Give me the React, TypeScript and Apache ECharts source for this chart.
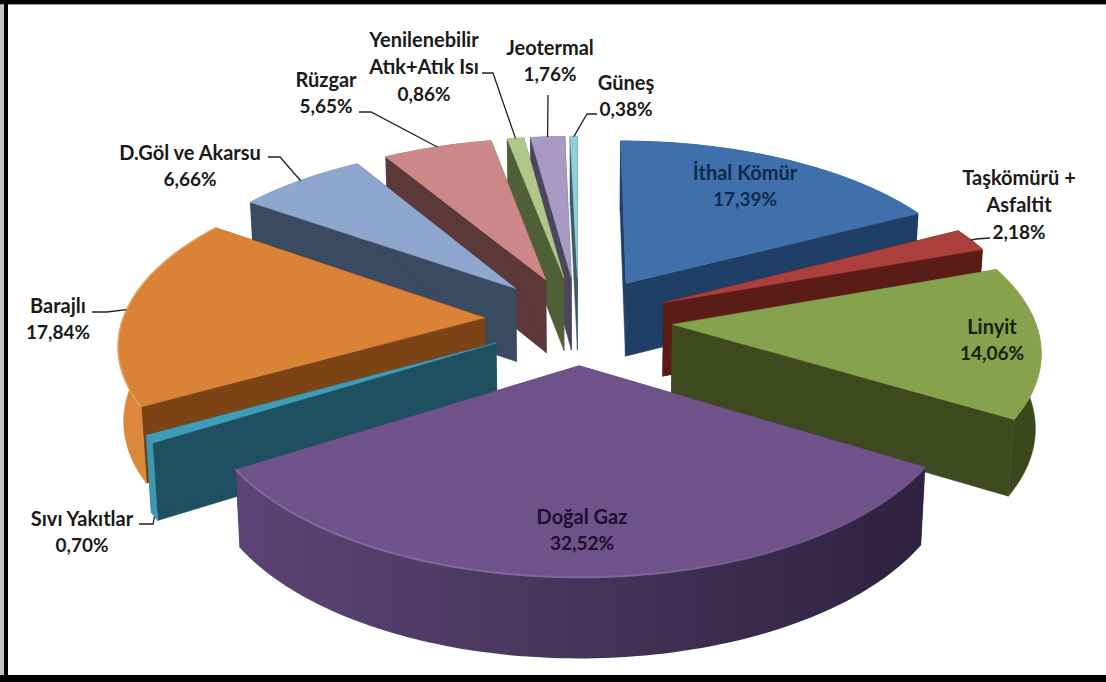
import React, { useEffect, useRef } from "react";
import * as echarts from "echarts";

const categories = [
  "İthal Kömür",
  "Taşkömürü +\nAsfaltit",
  "Linyit",
  "Doğal Gaz",
  "Sıvı Yakıtlar",
  "Barajlı",
  "D.Göl ve Akarsu",
  "Rüzgar",
  "Yenilenebilir\nAtık+Atık Isı",
  "Jeotermal",
  "Güneş",
];
const shares = [17.39, 2.18, 14.06, 32.52, 0.7, 17.84, 6.66, 5.65, 0.86, 1.76, 0.38];

const topColors = ["#3f70ab", "#ab3f3b", "#86a24c", "#6f5289", "#3f9db8", "#da8235", "#8fa7cf", "#cc8889", "#afc88a", "#a79bc3", "#92cfdc"];
const rimColors = ["#3f70ab", "#ab3f3b", "#8aa651", "#7f679f", "#3f9db8", "#e6a25e", "#8fa7cf", "#cc8889", "#afc88a", "#a79bc3", "#92cfdc"];
const faceColors = ["#1f3f66", "#5a1c16", "#3e4a1e", "#3c2c52", "#1f5062", "#7c4415", "#3a4a60", "#5d3838", "#4f6038", "#4b4560", "#3b5a6c"];
const wallColors = ["#1f3f66", "#5a1c16", "#3c481c", "#443355", "#3c97b0", "#dc883a", "#3a4a60", "#5d3838", "#4f6038", "#4b4560", "#3b5a6c"];

// Side wall shading of the large front slice, left to right.
const frontWallStops = ["#5c4474", "#453459", "#2e2240"];

// Projection of the pie's top plane; radius 1 is one slice radius.
const CX = 578.5;
const CY = 320;
const RX = 362;
const RY = 170;
const PERSPECTIVE = 0.133;
const EXPLODE = 0.26;
const DEPTH = 74;
const FRONT_SLICE = 3;

const total = shares.reduce((a, b) => a + b, 0);
const startAngles: number[] = [];
shares.reduce((acc, v, i) => {
  startAngles[i] = (acc / total) * Math.PI * 2;
  return acc + v;
}, 0);
const midAngle = (i: number) => startAngles[i] + (shares[i] / total) * Math.PI;

function project(u: number, v: number, lower = false): number[] {
  const s = 1 / (1 + PERSPECTIVE * v);
  const sx = RX * u * s;
  const sy = -RY * v * s;
  if (!lower) return [CX + sx, CY + sy];
  return [CX + sx * 0.988, CY + sy + DEPTH * Math.sqrt(s)];
}

function slicePoint(i: number, angle: number, radius: number, lower = false) {
  const m = midAngle(i);
  const u = EXPLODE * Math.sin(m) + radius * Math.sin(angle);
  const v = EXPLODE * Math.cos(m) + radius * Math.cos(angle);
  return project(u, v, lower);
}

// Back slices are painted first so that nearer ones cover them.
const paintRank = shares
  .map((_, i) => i)
  .sort((a, b) => Math.cos(midAngle(b)) - Math.cos(midAngle(a)));

function renderSlice(params: any, api: any) {
  const i = params.dataIndex;
  const a0 = startAngles[i];
  const a1 = a0 + (api.value(0) / total) * Math.PI * 2;
  const steps = Math.max(2, Math.ceil((a1 - a0) / 0.02));
  const upper: number[][] = [];
  const lower: number[][] = [];
  for (let k = 0; k <= steps; k++) {
    const a = a0 + ((a1 - a0) * k) / steps;
    upper.push(slicePoint(i, a, 1));
    lower.push(slicePoint(i, a, 1, true));
  }
  const apex = slicePoint(i, 0, 0);
  const apexLow = slicePoint(i, 0, 0, true);
  const z = paintRank.indexOf(i) * 10;
  const horizontal = (colors: string[]) =>
    new echarts.graphic.LinearGradient(
      0,
      0,
      1,
      0,
      colors.map((color, k) => ({ offset: k / (colors.length - 1), color }))
    );
  const front = i === FRONT_SLICE;
  const poly = (points: number[][], fill: any, z2: number) => ({
    type: "polygon",
    shape: { points },
    style: { fill, stroke: typeof fill === "string" ? fill : undefined, lineWidth: 0.5 },
    z2,
    silent: true,
  });
  const wallPoints = [...upper, ...[...lower].reverse()];
  const children: any[] = [
    poly([apex, upper[0], lower[0], apexLow], faceColors[i], z + 1),
    poly([apex, upper[steps], lower[steps], apexLow], faceColors[i], z + 1),
    poly(wallPoints, front ? horizontal(frontWallStops) : wallColors[i], z + 2),
    poly([apex, ...upper], topColors[i], z + 3),
    {
      type: "polyline",
      shape: { points: upper },
      style: {
        fill: "none",
        stroke: front ? horizontal([rimColors[i], rimColors[i], topColors[i]]) : rimColors[i],
        lineWidth: front ? 2 : 1.5,
      },
      z2: z + 4,
      silent: true,
    },
  ];
  return { type: "group", children };
}

// Centre of each label block, in the same order as the categories.
const labelX = [745, 1019, 992, 582, 82, 58, 190, 326, 424, 550, 626];
const labelY = [185, 204, 339, 529, 531, 318, 165, 92, 66, 60, 95];
const labelColors = ["#0f2a4d", "#1a1a1a", "#172008", "#1c1030", "#1a1a1a", "#1a1a1a", "#1a1a1a", "#1a1a1a", "#1a1a1a", "#1a1a1a", "#1a1a1a"];

// Leader line bends; the end on the slice comes from the projection.
const leaderBends: (number[][] | null)[] = [
  null,
  [[990, 238], [976, 239]],
  null,
  null,
  [[139, 524], [153, 524]],
  [[92, 312], [107, 312]],
  [[268, 157], [280, 157]],
  [[359, 112], [371, 112]],
  [[482, 73], [493, 73]],
  [[548, 95]],
  [[597, 114], [587, 114]],
];

function buildGraphics() {
  const out: any[] = [];
  const bar = (x: number, y: number, width: number, height: number, fill: string) =>
    out.push({ type: "rect", shape: { x, y, width, height }, style: { fill }, z: 90, silent: true });
  bar(0, 0, 4, 682, "#c4c4c4");
  bar(0, 4, 1106, 1, "#9a9a9a");
  bar(0, 0, 1106, 4, "#000");
  bar(4, 0, 4, 682, "#000");
  bar(0, 675, 1106, 7, "#000");

  categories.forEach((name, i) => {
    const lines = name.split("\n").map((line) => `{n|${line}}`);
    const text = `${lines.join("\n")}\n{v|${shares[i].toFixed(2).replace(".", ",")}%}`;
    const rich = {
      n: { font: 'bold 20px Lato, "Noto Sans", sans-serif', fill: labelColors[i], lineHeight: 27 },
      v: { font: 'bold 19px Lato, "Noto Sans", sans-serif', fill: labelColors[i], lineHeight: 27 },
    };
    out.push({
      type: "text",
      x: labelX[i],
      y: labelY[i],
      z: 100,
      silent: true,
      style: { text, rich, align: "center", verticalAlign: "middle" },
    });
    const bends = leaderBends[i];
    if (bends) {
      const tip = i === 4 ? slicePoint(i, midAngle(i), 1, true) : slicePoint(i, midAngle(i), 1);
      out.push({
        type: "polyline",
        z: 99,
        silent: true,
        shape: { points: [...bends, tip] },
        style: { fill: "none", stroke: "#222", lineWidth: 1.3 },
      });
    }
  });
  return out;
}

export default function App() {
  const ref = useRef<HTMLDivElement>(null);
  useEffect(() => {
    const chart = echarts.init(ref.current!, undefined, { renderer: "svg" });
    chart.setOption({
      animation: false,
      backgroundColor: "#ffffff",
      series: [
        {
          type: "custom",
          coordinateSystem: "none",
          silent: true,
          data: shares.map((v, i) => ({ name: categories[i], value: [v] })),
          renderItem: renderSlice,
        },
      ],
      graphic: buildGraphics(),
    });
    return () => chart.dispose();
  }, []);
  return <div ref={ref} style={{ position: "fixed", left: 0, top: 0, width: 1106, height: 682 }} />;
}
